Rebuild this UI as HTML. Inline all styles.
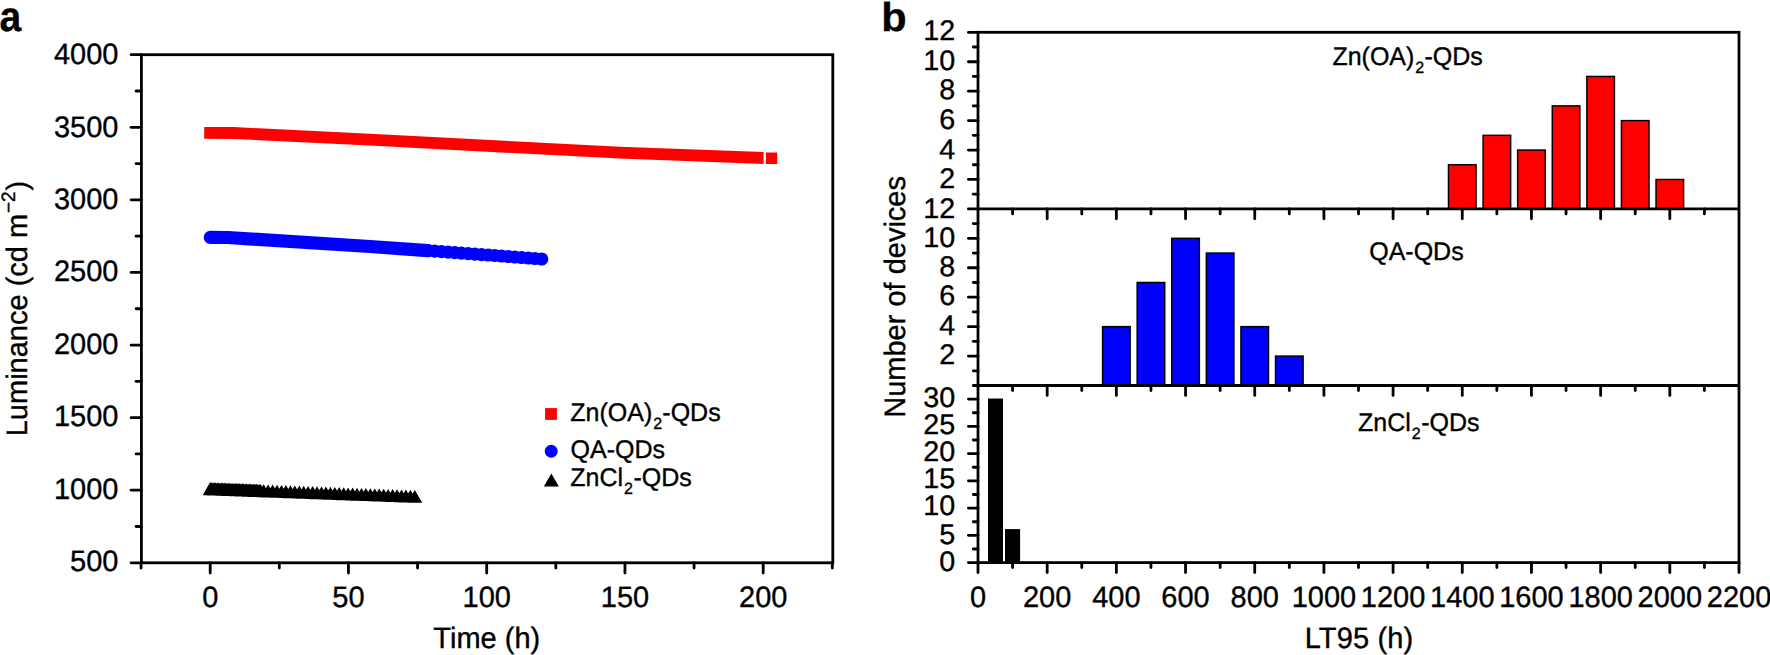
<!DOCTYPE html>
<html lang="en">
<head>
<meta charset="utf-8">
<title>Figure</title>
<style>
html,body{margin:0;padding:0;background:#fff;}
body{width:1770px;height:655px;overflow:hidden;}
svg{display:block;}
svg text{font-family:"Liberation Sans", sans-serif;fill:#000;stroke:#000;stroke-width:0.35px;text-rendering:geometricPrecision;}
</style>
</head>
<body>
<svg width="1770" height="655" viewBox="0 0 1770 655">
<rect width="1770" height="655" fill="#fff"/>
<polygon points="204.2,127.0 234.0,127.1 370.0,133.8 620.0,146.8 763.6,152.1 763.6,163.9 620.0,158.6 370.0,145.6 234.0,138.9 204.2,138.8" fill="#ff0000"/>
<rect x="765.9" y="152.5" width="11.3" height="11.5" fill="#ff0000"/>
<path d="M210.3,237.4 L228.0,237.5 L370.0,246.5 L428.0,250.6" fill="none" stroke="#0000ff" stroke-width="13.2" stroke-linecap="round" stroke-linejoin="round"/>
<circle cx="428.0" cy="250.6" r="6.6" fill="#0000ff"/>
<circle cx="434.7" cy="251.1" r="6.6" fill="#0000ff"/>
<circle cx="441.4" cy="251.6" r="6.6" fill="#0000ff"/>
<circle cx="448.1" cy="252.1" r="6.6" fill="#0000ff"/>
<circle cx="454.8" cy="252.6" r="6.6" fill="#0000ff"/>
<circle cx="461.4" cy="253.1" r="6.6" fill="#0000ff"/>
<circle cx="468.1" cy="253.6" r="6.6" fill="#0000ff"/>
<circle cx="474.8" cy="254.1" r="6.6" fill="#0000ff"/>
<circle cx="481.5" cy="254.6" r="6.6" fill="#0000ff"/>
<circle cx="488.2" cy="255.0" r="6.6" fill="#0000ff"/>
<circle cx="494.9" cy="255.5" r="6.6" fill="#0000ff"/>
<circle cx="501.6" cy="256.0" r="6.6" fill="#0000ff"/>
<circle cx="508.3" cy="256.5" r="6.6" fill="#0000ff"/>
<circle cx="514.9" cy="257.0" r="6.6" fill="#0000ff"/>
<circle cx="521.6" cy="257.5" r="6.6" fill="#0000ff"/>
<circle cx="528.3" cy="258.0" r="6.6" fill="#0000ff"/>
<circle cx="535.0" cy="258.5" r="6.6" fill="#0000ff"/>
<circle cx="541.7" cy="259.0" r="6.6" fill="#0000ff"/>
<path d="M202.7,495.2 L210.2,482.1 L217.7,495.2Z M204.1,495.3 L211.6,482.2 L219.1,495.3Z M205.5,495.3 L213.0,482.2 L220.5,495.3Z M206.9,495.4 L214.4,482.3 L221.9,495.4Z M208.3,495.4 L215.8,482.3 L223.3,495.4Z M209.7,495.5 L217.2,482.4 L224.7,495.5Z M211.1,495.5 L218.6,482.4 L226.1,495.5Z M212.5,495.6 L220.0,482.5 L227.5,495.6Z M213.9,495.6 L221.4,482.5 L228.9,495.6Z M215.3,495.7 L222.8,482.6 L230.3,495.7Z M216.7,495.7 L224.2,482.6 L231.7,495.7Z M218.1,495.8 L225.6,482.7 L233.1,495.8Z M219.5,495.8 L227.0,482.7 L234.5,495.8Z M220.9,495.9 L228.4,482.8 L235.9,495.9Z M222.3,495.9 L229.8,482.8 L237.3,495.9Z M223.7,496.0 L231.2,482.9 L238.7,496.0Z M225.1,496.0 L232.6,482.9 L240.1,496.0Z M226.5,496.1 L234.0,483.0 L241.5,496.1Z M227.9,496.1 L235.4,483.0 L242.9,496.1Z M229.3,496.2 L236.8,483.1 L244.3,496.2Z M230.7,496.2 L238.2,483.1 L245.7,496.2Z M232.1,496.3 L239.6,483.2 L247.1,496.3Z M233.5,496.3 L241.0,483.2 L248.5,496.3Z M234.9,496.4 L242.4,483.3 L249.9,496.4Z M236.3,496.4 L243.8,483.3 L251.3,496.4Z M237.7,496.5 L245.2,483.4 L252.7,496.5Z M239.1,496.6 L246.6,483.5 L254.1,496.6Z M240.5,496.6 L248.0,483.5 L255.5,496.6Z M241.9,496.7 L249.4,483.6 L256.9,496.7Z M243.3,496.7 L250.8,483.6 L258.3,496.7Z M244.7,496.8 L252.2,483.7 L259.7,496.8Z M246.1,496.8 L253.6,483.7 L261.1,496.8Z M247.5,496.9 L255.0,483.8 L262.5,496.9Z M248.9,496.9 L256.4,483.8 L263.9,496.9Z M250.3,497.0 L257.8,483.9 L265.3,497.0Z M251.7,497.0 L259.2,483.9 L266.7,497.0Z M253.1,497.1 L260.6,484.0 L268.1,497.1Z M256.2,497.2 L263.7,484.3 L271.2,497.2Z M260.6,497.4 L268.1,484.5 L275.6,497.4Z M265.1,497.5 L272.6,484.6 L280.1,497.5Z M269.5,497.7 L277.0,484.8 L284.5,497.7Z M274.0,497.8 L281.5,484.9 L289.0,497.8Z M278.4,498.0 L285.9,485.1 L293.4,498.0Z M282.9,498.2 L290.4,485.3 L297.9,498.2Z M287.3,498.3 L294.8,485.4 L302.3,498.3Z M291.8,498.5 L299.3,485.6 L306.8,498.5Z M296.2,498.7 L303.7,485.8 L311.2,498.7Z M300.6,498.8 L308.1,485.9 L315.6,498.8Z M305.1,499.0 L312.6,486.1 L320.1,499.0Z M309.5,499.2 L317.0,486.3 L324.5,499.2Z M314.0,499.3 L321.5,486.4 L329.0,499.3Z M318.4,499.5 L325.9,486.6 L333.4,499.5Z M322.9,499.7 L330.4,486.8 L337.9,499.7Z M327.3,499.8 L334.8,486.9 L342.3,499.8Z M331.8,500.0 L339.2,487.1 L346.8,500.0Z M336.2,500.2 L343.7,487.3 L351.2,500.2Z M340.6,500.3 L348.1,487.4 L355.6,500.3Z M345.1,500.5 L352.6,487.6 L360.1,500.5Z M349.5,500.7 L357.0,487.8 L364.5,500.7Z M354.0,500.8 L361.5,487.9 L369.0,500.8Z M358.4,501.0 L365.9,488.1 L373.4,501.0Z M362.9,501.1 L370.4,488.2 L377.9,501.1Z M367.3,501.3 L374.8,488.4 L382.3,501.3Z M371.7,501.5 L379.2,488.6 L386.7,501.5Z M376.2,501.6 L383.7,488.7 L391.2,501.6Z M380.6,501.8 L388.1,488.9 L395.6,501.8Z M385.1,502.0 L392.6,489.1 L400.1,502.0Z M389.5,502.1 L397.0,489.2 L404.5,502.1Z M394.0,502.3 L401.5,489.4 L409.0,502.3Z M398.4,502.5 L405.9,489.6 L413.4,502.5Z M402.9,502.6 L410.4,489.7 L417.9,502.6Z M407.3,502.8 L414.8,489.9 L422.3,502.8Z" fill="#000"/>
<rect x="141.4" y="54.7" width="691.40" height="508.10" fill="none" stroke="#000" stroke-width="2.8"/>
<line x1="131.10" y1="562.80" x2="141.40" y2="562.80" stroke="#000" stroke-width="2.8" stroke-linecap="round"/>
<text transform="translate(118.50,571.20) scale(1.0,1.02)" font-size="29" text-anchor="end" font-weight="normal" >500</text>
<line x1="136.10" y1="526.51" x2="141.40" y2="526.51" stroke="#000" stroke-width="2.8" stroke-linecap="round"/>
<line x1="131.10" y1="490.21" x2="141.40" y2="490.21" stroke="#000" stroke-width="2.8" stroke-linecap="round"/>
<text transform="translate(118.50,498.76) scale(1.0,1.02)" font-size="29" text-anchor="end" font-weight="normal" >1000</text>
<line x1="136.10" y1="453.92" x2="141.40" y2="453.92" stroke="#000" stroke-width="2.8" stroke-linecap="round"/>
<line x1="131.10" y1="417.63" x2="141.40" y2="417.63" stroke="#000" stroke-width="2.8" stroke-linecap="round"/>
<text transform="translate(118.50,426.31) scale(1.0,1.02)" font-size="29" text-anchor="end" font-weight="normal" >1500</text>
<line x1="136.10" y1="381.34" x2="141.40" y2="381.34" stroke="#000" stroke-width="2.8" stroke-linecap="round"/>
<line x1="131.10" y1="345.04" x2="141.40" y2="345.04" stroke="#000" stroke-width="2.8" stroke-linecap="round"/>
<text transform="translate(118.50,353.87) scale(1.0,1.02)" font-size="29" text-anchor="end" font-weight="normal" >2000</text>
<line x1="136.10" y1="308.75" x2="141.40" y2="308.75" stroke="#000" stroke-width="2.8" stroke-linecap="round"/>
<line x1="131.10" y1="272.46" x2="141.40" y2="272.46" stroke="#000" stroke-width="2.8" stroke-linecap="round"/>
<text transform="translate(118.50,281.43) scale(1.0,1.02)" font-size="29" text-anchor="end" font-weight="normal" >2500</text>
<line x1="136.10" y1="236.16" x2="141.40" y2="236.16" stroke="#000" stroke-width="2.8" stroke-linecap="round"/>
<line x1="131.10" y1="199.87" x2="141.40" y2="199.87" stroke="#000" stroke-width="2.8" stroke-linecap="round"/>
<text transform="translate(118.50,208.99) scale(1.0,1.02)" font-size="29" text-anchor="end" font-weight="normal" >3000</text>
<line x1="136.10" y1="163.58" x2="141.40" y2="163.58" stroke="#000" stroke-width="2.8" stroke-linecap="round"/>
<line x1="131.10" y1="127.29" x2="141.40" y2="127.29" stroke="#000" stroke-width="2.8" stroke-linecap="round"/>
<text transform="translate(118.50,136.54) scale(1.0,1.02)" font-size="29" text-anchor="end" font-weight="normal" >3500</text>
<line x1="136.10" y1="90.99" x2="141.40" y2="90.99" stroke="#000" stroke-width="2.8" stroke-linecap="round"/>
<line x1="131.10" y1="54.70" x2="141.40" y2="54.70" stroke="#000" stroke-width="2.8" stroke-linecap="round"/>
<text transform="translate(118.50,64.10) scale(1.0,1.02)" font-size="29" text-anchor="end" font-weight="normal" >4000</text>
<line x1="141.07" y1="562.80" x2="141.07" y2="568.10" stroke="#000" stroke-width="2.8" stroke-linecap="round"/>
<line x1="210.20" y1="562.80" x2="210.20" y2="573.10" stroke="#000" stroke-width="2.8" stroke-linecap="round"/>
<text transform="translate(210.20,606.80) scale(1.0,1.02)" font-size="29" text-anchor="middle" font-weight="normal" >0</text>
<line x1="279.32" y1="562.80" x2="279.32" y2="568.10" stroke="#000" stroke-width="2.8" stroke-linecap="round"/>
<line x1="348.45" y1="562.80" x2="348.45" y2="573.10" stroke="#000" stroke-width="2.8" stroke-linecap="round"/>
<text transform="translate(348.45,606.80) scale(1.0,1.02)" font-size="29" text-anchor="middle" font-weight="normal" >50</text>
<line x1="417.57" y1="562.80" x2="417.57" y2="568.10" stroke="#000" stroke-width="2.8" stroke-linecap="round"/>
<line x1="486.70" y1="562.80" x2="486.70" y2="573.10" stroke="#000" stroke-width="2.8" stroke-linecap="round"/>
<text transform="translate(486.70,606.80) scale(1.0,1.02)" font-size="29" text-anchor="middle" font-weight="normal" >100</text>
<line x1="555.83" y1="562.80" x2="555.83" y2="568.10" stroke="#000" stroke-width="2.8" stroke-linecap="round"/>
<line x1="624.95" y1="562.80" x2="624.95" y2="573.10" stroke="#000" stroke-width="2.8" stroke-linecap="round"/>
<text transform="translate(624.95,606.80) scale(1.0,1.02)" font-size="29" text-anchor="middle" font-weight="normal" >150</text>
<line x1="694.08" y1="562.80" x2="694.08" y2="568.10" stroke="#000" stroke-width="2.8" stroke-linecap="round"/>
<line x1="763.20" y1="562.80" x2="763.20" y2="573.10" stroke="#000" stroke-width="2.8" stroke-linecap="round"/>
<text transform="translate(763.20,606.80) scale(1.0,1.02)" font-size="29" text-anchor="middle" font-weight="normal" >200</text>
<line x1="832.33" y1="562.80" x2="832.33" y2="568.10" stroke="#000" stroke-width="2.8" stroke-linecap="round"/>
<text transform="translate(486.80,647.70) scale(1.0,1.02)" font-size="29" text-anchor="middle" font-weight="normal" >Time (h)</text>
<text transform="translate(27.4,308.6) rotate(-90) scale(1,1.02)" font-size="29" text-anchor="middle">Luminance (cd m<tspan font-size="19" dy="-12.6" dx="0.8">−2</tspan><tspan dy="12.6" dx="0.8">)</tspan></text>
<text transform="translate(-0.60,30.80) scale(0.93,1.01)" font-size="42" text-anchor="start" font-weight="bold" >a</text>
<rect x="545.1" y="408.1" width="11.8" height="11.8" fill="#ff0000"/>
<circle cx="551.2" cy="451.3" r="6.45" fill="#0000ff"/>
<path d="M543.8,486.6 L551.35,473.5 L558.9,486.6Z" fill="#000"/>
<text transform="translate(570.3,421.1) scale(1,1.02)" font-size="25" text-anchor="start">Zn(OA)<tspan font-size="16" dy="7.8" dx="1.0">2</tspan><tspan dy="-7.8" dx="0.2">-QDs</tspan></text>
<text transform="translate(570.60,458.00) scale(1.0,1.02)" font-size="25" text-anchor="start" font-weight="normal" >QA-QDs</text>
<text transform="translate(570.3,486.0) scale(1,1.02)" font-size="25" text-anchor="start">ZnCl<tspan font-size="16" dy="8" dx="1">2</tspan><tspan dy="-8" dx="0.5">-QDs</tspan></text>
<rect x="978.0" y="32.3" width="761.00" height="530.30" fill="none" stroke="#000" stroke-width="2.8"/>
<rect x="1448.47" y="164.75" width="27.6" height="44.15" fill="#ff0000" stroke="#000" stroke-width="1.45"/>
<rect x="1483.06" y="135.32" width="27.6" height="73.58" fill="#ff0000" stroke="#000" stroke-width="1.45"/>
<rect x="1517.65" y="150.03" width="27.6" height="58.87" fill="#ff0000" stroke="#000" stroke-width="1.45"/>
<rect x="1552.25" y="105.88" width="27.6" height="103.02" fill="#ff0000" stroke="#000" stroke-width="1.45"/>
<rect x="1586.84" y="76.45" width="27.6" height="132.45" fill="#ff0000" stroke="#000" stroke-width="1.45"/>
<rect x="1621.43" y="120.60" width="27.6" height="88.30" fill="#ff0000" stroke="#000" stroke-width="1.45"/>
<rect x="1656.02" y="179.47" width="27.6" height="29.43" fill="#ff0000" stroke="#000" stroke-width="1.45"/>
<rect x="1102.56" y="326.63" width="27.6" height="58.87" fill="#0000ff" stroke="#000" stroke-width="1.45"/>
<rect x="1137.15" y="282.48" width="27.6" height="103.02" fill="#0000ff" stroke="#000" stroke-width="1.45"/>
<rect x="1171.75" y="238.33" width="27.6" height="147.17" fill="#0000ff" stroke="#000" stroke-width="1.45"/>
<rect x="1206.34" y="253.05" width="27.6" height="132.45" fill="#0000ff" stroke="#000" stroke-width="1.45"/>
<rect x="1240.93" y="326.63" width="27.6" height="58.87" fill="#0000ff" stroke="#000" stroke-width="1.45"/>
<rect x="1275.52" y="356.07" width="27.6" height="29.43" fill="#0000ff" stroke="#000" stroke-width="1.45"/>
<rect x="988" y="398.52" width="15" height="164.08" fill="#000"/>
<rect x="1005" y="529.10" width="15.1" height="33.50" fill="#000"/>
<path d="M978.0,208.9 H1739.0 M978.0,385.5 H1739.0" stroke="#000" stroke-width="2.8" fill="none"/>
<line x1="1012.59" y1="208.90" x2="1012.59" y2="213.90" stroke="#000" stroke-width="2.8" stroke-linecap="round"/>
<line x1="1047.18" y1="208.90" x2="1047.18" y2="218.80" stroke="#000" stroke-width="2.8" stroke-linecap="round"/>
<line x1="1081.77" y1="208.90" x2="1081.77" y2="213.90" stroke="#000" stroke-width="2.8" stroke-linecap="round"/>
<line x1="1116.36" y1="208.90" x2="1116.36" y2="218.80" stroke="#000" stroke-width="2.8" stroke-linecap="round"/>
<line x1="1150.95" y1="208.90" x2="1150.95" y2="213.90" stroke="#000" stroke-width="2.8" stroke-linecap="round"/>
<line x1="1185.55" y1="208.90" x2="1185.55" y2="218.80" stroke="#000" stroke-width="2.8" stroke-linecap="round"/>
<line x1="1220.14" y1="208.90" x2="1220.14" y2="213.90" stroke="#000" stroke-width="2.8" stroke-linecap="round"/>
<line x1="1254.73" y1="208.90" x2="1254.73" y2="218.80" stroke="#000" stroke-width="2.8" stroke-linecap="round"/>
<line x1="1289.32" y1="208.90" x2="1289.32" y2="213.90" stroke="#000" stroke-width="2.8" stroke-linecap="round"/>
<line x1="1323.91" y1="208.90" x2="1323.91" y2="218.80" stroke="#000" stroke-width="2.8" stroke-linecap="round"/>
<line x1="1358.50" y1="208.90" x2="1358.50" y2="213.90" stroke="#000" stroke-width="2.8" stroke-linecap="round"/>
<line x1="1393.09" y1="208.90" x2="1393.09" y2="218.80" stroke="#000" stroke-width="2.8" stroke-linecap="round"/>
<line x1="1427.68" y1="208.90" x2="1427.68" y2="213.90" stroke="#000" stroke-width="2.8" stroke-linecap="round"/>
<line x1="1462.27" y1="208.90" x2="1462.27" y2="218.80" stroke="#000" stroke-width="2.8" stroke-linecap="round"/>
<line x1="1496.86" y1="208.90" x2="1496.86" y2="213.90" stroke="#000" stroke-width="2.8" stroke-linecap="round"/>
<line x1="1531.45" y1="208.90" x2="1531.45" y2="218.80" stroke="#000" stroke-width="2.8" stroke-linecap="round"/>
<line x1="1566.05" y1="208.90" x2="1566.05" y2="213.90" stroke="#000" stroke-width="2.8" stroke-linecap="round"/>
<line x1="1600.64" y1="208.90" x2="1600.64" y2="218.80" stroke="#000" stroke-width="2.8" stroke-linecap="round"/>
<line x1="1635.23" y1="208.90" x2="1635.23" y2="213.90" stroke="#000" stroke-width="2.8" stroke-linecap="round"/>
<line x1="1669.82" y1="208.90" x2="1669.82" y2="218.80" stroke="#000" stroke-width="2.8" stroke-linecap="round"/>
<line x1="1704.41" y1="208.90" x2="1704.41" y2="213.90" stroke="#000" stroke-width="2.8" stroke-linecap="round"/>
<line x1="1012.59" y1="385.50" x2="1012.59" y2="390.50" stroke="#000" stroke-width="2.8" stroke-linecap="round"/>
<line x1="1047.18" y1="385.50" x2="1047.18" y2="395.40" stroke="#000" stroke-width="2.8" stroke-linecap="round"/>
<line x1="1081.77" y1="385.50" x2="1081.77" y2="390.50" stroke="#000" stroke-width="2.8" stroke-linecap="round"/>
<line x1="1116.36" y1="385.50" x2="1116.36" y2="395.40" stroke="#000" stroke-width="2.8" stroke-linecap="round"/>
<line x1="1150.95" y1="385.50" x2="1150.95" y2="390.50" stroke="#000" stroke-width="2.8" stroke-linecap="round"/>
<line x1="1185.55" y1="385.50" x2="1185.55" y2="395.40" stroke="#000" stroke-width="2.8" stroke-linecap="round"/>
<line x1="1220.14" y1="385.50" x2="1220.14" y2="390.50" stroke="#000" stroke-width="2.8" stroke-linecap="round"/>
<line x1="1254.73" y1="385.50" x2="1254.73" y2="395.40" stroke="#000" stroke-width="2.8" stroke-linecap="round"/>
<line x1="1289.32" y1="385.50" x2="1289.32" y2="390.50" stroke="#000" stroke-width="2.8" stroke-linecap="round"/>
<line x1="1323.91" y1="385.50" x2="1323.91" y2="395.40" stroke="#000" stroke-width="2.8" stroke-linecap="round"/>
<line x1="1358.50" y1="385.50" x2="1358.50" y2="390.50" stroke="#000" stroke-width="2.8" stroke-linecap="round"/>
<line x1="1393.09" y1="385.50" x2="1393.09" y2="395.40" stroke="#000" stroke-width="2.8" stroke-linecap="round"/>
<line x1="1427.68" y1="385.50" x2="1427.68" y2="390.50" stroke="#000" stroke-width="2.8" stroke-linecap="round"/>
<line x1="1462.27" y1="385.50" x2="1462.27" y2="395.40" stroke="#000" stroke-width="2.8" stroke-linecap="round"/>
<line x1="1496.86" y1="385.50" x2="1496.86" y2="390.50" stroke="#000" stroke-width="2.8" stroke-linecap="round"/>
<line x1="1531.45" y1="385.50" x2="1531.45" y2="395.40" stroke="#000" stroke-width="2.8" stroke-linecap="round"/>
<line x1="1566.05" y1="385.50" x2="1566.05" y2="390.50" stroke="#000" stroke-width="2.8" stroke-linecap="round"/>
<line x1="1600.64" y1="385.50" x2="1600.64" y2="395.40" stroke="#000" stroke-width="2.8" stroke-linecap="round"/>
<line x1="1635.23" y1="385.50" x2="1635.23" y2="390.50" stroke="#000" stroke-width="2.8" stroke-linecap="round"/>
<line x1="1669.82" y1="385.50" x2="1669.82" y2="395.40" stroke="#000" stroke-width="2.8" stroke-linecap="round"/>
<line x1="1704.41" y1="385.50" x2="1704.41" y2="390.50" stroke="#000" stroke-width="2.8" stroke-linecap="round"/>
<line x1="978.00" y1="562.60" x2="978.00" y2="572.50" stroke="#000" stroke-width="2.8" stroke-linecap="round"/>
<line x1="1012.59" y1="562.60" x2="1012.59" y2="567.60" stroke="#000" stroke-width="2.8" stroke-linecap="round"/>
<line x1="1047.18" y1="562.60" x2="1047.18" y2="572.50" stroke="#000" stroke-width="2.8" stroke-linecap="round"/>
<line x1="1081.77" y1="562.60" x2="1081.77" y2="567.60" stroke="#000" stroke-width="2.8" stroke-linecap="round"/>
<line x1="1116.36" y1="562.60" x2="1116.36" y2="572.50" stroke="#000" stroke-width="2.8" stroke-linecap="round"/>
<line x1="1150.95" y1="562.60" x2="1150.95" y2="567.60" stroke="#000" stroke-width="2.8" stroke-linecap="round"/>
<line x1="1185.55" y1="562.60" x2="1185.55" y2="572.50" stroke="#000" stroke-width="2.8" stroke-linecap="round"/>
<line x1="1220.14" y1="562.60" x2="1220.14" y2="567.60" stroke="#000" stroke-width="2.8" stroke-linecap="round"/>
<line x1="1254.73" y1="562.60" x2="1254.73" y2="572.50" stroke="#000" stroke-width="2.8" stroke-linecap="round"/>
<line x1="1289.32" y1="562.60" x2="1289.32" y2="567.60" stroke="#000" stroke-width="2.8" stroke-linecap="round"/>
<line x1="1323.91" y1="562.60" x2="1323.91" y2="572.50" stroke="#000" stroke-width="2.8" stroke-linecap="round"/>
<line x1="1358.50" y1="562.60" x2="1358.50" y2="567.60" stroke="#000" stroke-width="2.8" stroke-linecap="round"/>
<line x1="1393.09" y1="562.60" x2="1393.09" y2="572.50" stroke="#000" stroke-width="2.8" stroke-linecap="round"/>
<line x1="1427.68" y1="562.60" x2="1427.68" y2="567.60" stroke="#000" stroke-width="2.8" stroke-linecap="round"/>
<line x1="1462.27" y1="562.60" x2="1462.27" y2="572.50" stroke="#000" stroke-width="2.8" stroke-linecap="round"/>
<line x1="1496.86" y1="562.60" x2="1496.86" y2="567.60" stroke="#000" stroke-width="2.8" stroke-linecap="round"/>
<line x1="1531.45" y1="562.60" x2="1531.45" y2="572.50" stroke="#000" stroke-width="2.8" stroke-linecap="round"/>
<line x1="1566.05" y1="562.60" x2="1566.05" y2="567.60" stroke="#000" stroke-width="2.8" stroke-linecap="round"/>
<line x1="1600.64" y1="562.60" x2="1600.64" y2="572.50" stroke="#000" stroke-width="2.8" stroke-linecap="round"/>
<line x1="1635.23" y1="562.60" x2="1635.23" y2="567.60" stroke="#000" stroke-width="2.8" stroke-linecap="round"/>
<line x1="1669.82" y1="562.60" x2="1669.82" y2="572.50" stroke="#000" stroke-width="2.8" stroke-linecap="round"/>
<line x1="1704.41" y1="562.60" x2="1704.41" y2="567.60" stroke="#000" stroke-width="2.8" stroke-linecap="round"/>
<line x1="1739.00" y1="562.60" x2="1739.00" y2="572.50" stroke="#000" stroke-width="2.8" stroke-linecap="round"/>
<text transform="translate(978.00,606.80) scale(1.0,1.02)" font-size="29" text-anchor="middle" font-weight="normal" >0</text>
<text transform="translate(1047.18,606.80) scale(1.0,1.02)" font-size="29" text-anchor="middle" font-weight="normal" >200</text>
<text transform="translate(1116.36,606.80) scale(1.0,1.02)" font-size="29" text-anchor="middle" font-weight="normal" >400</text>
<text transform="translate(1185.55,606.80) scale(1.0,1.02)" font-size="29" text-anchor="middle" font-weight="normal" >600</text>
<text transform="translate(1254.73,606.80) scale(1.0,1.02)" font-size="29" text-anchor="middle" font-weight="normal" >800</text>
<text transform="translate(1323.91,606.80) scale(1.0,1.02)" font-size="29" text-anchor="middle" font-weight="normal" >1000</text>
<text transform="translate(1393.09,606.80) scale(1.0,1.02)" font-size="29" text-anchor="middle" font-weight="normal" >1200</text>
<text transform="translate(1462.27,606.80) scale(1.0,1.02)" font-size="29" text-anchor="middle" font-weight="normal" >1400</text>
<text transform="translate(1531.45,606.80) scale(1.0,1.02)" font-size="29" text-anchor="middle" font-weight="normal" >1600</text>
<text transform="translate(1600.64,606.80) scale(1.0,1.02)" font-size="29" text-anchor="middle" font-weight="normal" >1800</text>
<text transform="translate(1669.82,606.80) scale(1.0,1.02)" font-size="29" text-anchor="middle" font-weight="normal" >2000</text>
<text transform="translate(1739.00,606.80) scale(1.0,1.02)" font-size="29" text-anchor="middle" font-weight="normal" >2200</text>
<line x1="973.30" y1="194.18" x2="978.00" y2="194.18" stroke="#000" stroke-width="2.8" stroke-linecap="round"/>
<line x1="968.40" y1="179.47" x2="978.00" y2="179.47" stroke="#000" stroke-width="2.8" stroke-linecap="round"/>
<text transform="translate(955.20,188.22) scale(1.0,0.985)" font-size="28.7" text-anchor="end" font-weight="normal" >2</text>
<line x1="973.30" y1="164.75" x2="978.00" y2="164.75" stroke="#000" stroke-width="2.8" stroke-linecap="round"/>
<line x1="968.40" y1="150.03" x2="978.00" y2="150.03" stroke="#000" stroke-width="2.8" stroke-linecap="round"/>
<text transform="translate(955.20,158.63) scale(1.0,0.985)" font-size="28.7" text-anchor="end" font-weight="normal" >4</text>
<line x1="973.30" y1="135.32" x2="978.00" y2="135.32" stroke="#000" stroke-width="2.8" stroke-linecap="round"/>
<line x1="968.40" y1="120.60" x2="978.00" y2="120.60" stroke="#000" stroke-width="2.8" stroke-linecap="round"/>
<text transform="translate(955.20,129.05) scale(1.0,0.985)" font-size="28.7" text-anchor="end" font-weight="normal" >6</text>
<line x1="973.30" y1="105.88" x2="978.00" y2="105.88" stroke="#000" stroke-width="2.8" stroke-linecap="round"/>
<line x1="968.40" y1="91.17" x2="978.00" y2="91.17" stroke="#000" stroke-width="2.8" stroke-linecap="round"/>
<text transform="translate(955.20,99.47) scale(1.0,0.985)" font-size="28.7" text-anchor="end" font-weight="normal" >8</text>
<line x1="973.30" y1="76.45" x2="978.00" y2="76.45" stroke="#000" stroke-width="2.8" stroke-linecap="round"/>
<line x1="968.40" y1="61.73" x2="978.00" y2="61.73" stroke="#000" stroke-width="2.8" stroke-linecap="round"/>
<text transform="translate(955.20,69.88) scale(1.0,0.985)" font-size="28.7" text-anchor="end" font-weight="normal" >10</text>
<line x1="973.30" y1="47.02" x2="978.00" y2="47.02" stroke="#000" stroke-width="2.8" stroke-linecap="round"/>
<line x1="968.40" y1="32.30" x2="978.00" y2="32.30" stroke="#000" stroke-width="2.8" stroke-linecap="round"/>
<text transform="translate(955.20,40.30) scale(1.0,0.985)" font-size="28.7" text-anchor="end" font-weight="normal" >12</text>
<line x1="973.30" y1="370.78" x2="978.00" y2="370.78" stroke="#000" stroke-width="2.8" stroke-linecap="round"/>
<line x1="968.40" y1="356.07" x2="978.00" y2="356.07" stroke="#000" stroke-width="2.8" stroke-linecap="round"/>
<text transform="translate(955.20,364.27) scale(1.0,0.985)" font-size="28.7" text-anchor="end" font-weight="normal" >2</text>
<line x1="973.30" y1="341.35" x2="978.00" y2="341.35" stroke="#000" stroke-width="2.8" stroke-linecap="round"/>
<line x1="968.40" y1="326.63" x2="978.00" y2="326.63" stroke="#000" stroke-width="2.8" stroke-linecap="round"/>
<text transform="translate(955.20,334.63) scale(1.0,0.985)" font-size="28.7" text-anchor="end" font-weight="normal" >4</text>
<line x1="973.30" y1="311.92" x2="978.00" y2="311.92" stroke="#000" stroke-width="2.8" stroke-linecap="round"/>
<line x1="968.40" y1="297.20" x2="978.00" y2="297.20" stroke="#000" stroke-width="2.8" stroke-linecap="round"/>
<text transform="translate(955.20,305.20) scale(1.0,0.985)" font-size="28.7" text-anchor="end" font-weight="normal" >6</text>
<line x1="973.30" y1="282.48" x2="978.00" y2="282.48" stroke="#000" stroke-width="2.8" stroke-linecap="round"/>
<line x1="968.40" y1="267.77" x2="978.00" y2="267.77" stroke="#000" stroke-width="2.8" stroke-linecap="round"/>
<text transform="translate(955.20,275.97) scale(1.0,0.985)" font-size="28.7" text-anchor="end" font-weight="normal" >8</text>
<line x1="973.30" y1="253.05" x2="978.00" y2="253.05" stroke="#000" stroke-width="2.8" stroke-linecap="round"/>
<line x1="968.40" y1="238.33" x2="978.00" y2="238.33" stroke="#000" stroke-width="2.8" stroke-linecap="round"/>
<text transform="translate(955.20,246.93) scale(1.0,0.985)" font-size="28.7" text-anchor="end" font-weight="normal" >10</text>
<line x1="973.30" y1="223.62" x2="978.00" y2="223.62" stroke="#000" stroke-width="2.8" stroke-linecap="round"/>
<line x1="968.40" y1="208.90" x2="978.00" y2="208.90" stroke="#000" stroke-width="2.8" stroke-linecap="round"/>
<text transform="translate(955.20,217.90) scale(1.0,0.985)" font-size="28.7" text-anchor="end" font-weight="normal" >12</text>
<line x1="968.40" y1="562.60" x2="978.00" y2="562.60" stroke="#000" stroke-width="2.8" stroke-linecap="round"/>
<text transform="translate(955.20,571.10) scale(1.0,0.985)" font-size="28.7" text-anchor="end" font-weight="normal" >0</text>
<line x1="973.30" y1="548.98" x2="978.00" y2="548.98" stroke="#000" stroke-width="2.8" stroke-linecap="round"/>
<line x1="968.40" y1="535.35" x2="978.00" y2="535.35" stroke="#000" stroke-width="2.8" stroke-linecap="round"/>
<text transform="translate(955.20,544.05) scale(1.0,0.985)" font-size="28.7" text-anchor="end" font-weight="normal" >5</text>
<line x1="973.30" y1="521.73" x2="978.00" y2="521.73" stroke="#000" stroke-width="2.8" stroke-linecap="round"/>
<line x1="968.40" y1="508.11" x2="978.00" y2="508.11" stroke="#000" stroke-width="2.8" stroke-linecap="round"/>
<text transform="translate(955.20,514.81) scale(1.0,0.985)" font-size="28.7" text-anchor="end" font-weight="normal" >10</text>
<line x1="973.30" y1="494.48" x2="978.00" y2="494.48" stroke="#000" stroke-width="2.8" stroke-linecap="round"/>
<line x1="968.40" y1="480.86" x2="978.00" y2="480.86" stroke="#000" stroke-width="2.8" stroke-linecap="round"/>
<text transform="translate(955.20,487.56) scale(1.0,0.985)" font-size="28.7" text-anchor="end" font-weight="normal" >15</text>
<line x1="973.30" y1="467.24" x2="978.00" y2="467.24" stroke="#000" stroke-width="2.8" stroke-linecap="round"/>
<line x1="968.40" y1="453.62" x2="978.00" y2="453.62" stroke="#000" stroke-width="2.8" stroke-linecap="round"/>
<text transform="translate(955.20,460.62) scale(1.0,0.985)" font-size="28.7" text-anchor="end" font-weight="normal" >20</text>
<line x1="973.30" y1="439.99" x2="978.00" y2="439.99" stroke="#000" stroke-width="2.8" stroke-linecap="round"/>
<line x1="968.40" y1="426.37" x2="978.00" y2="426.37" stroke="#000" stroke-width="2.8" stroke-linecap="round"/>
<text transform="translate(955.20,433.57) scale(1.0,0.985)" font-size="28.7" text-anchor="end" font-weight="normal" >25</text>
<line x1="973.30" y1="412.75" x2="978.00" y2="412.75" stroke="#000" stroke-width="2.8" stroke-linecap="round"/>
<line x1="968.40" y1="399.12" x2="978.00" y2="399.12" stroke="#000" stroke-width="2.8" stroke-linecap="round"/>
<text transform="translate(955.20,407.32) scale(1.0,0.985)" font-size="28.7" text-anchor="end" font-weight="normal" >30</text>
<line x1="973.30" y1="385.50" x2="978.00" y2="385.50" stroke="#000" stroke-width="2.8" stroke-linecap="round"/>
<text transform="translate(1359.00,647.70) scale(1.0,1.02)" font-size="29" text-anchor="middle" font-weight="normal" letter-spacing="0.15">LT95 (h)</text>
<text transform="translate(904.9,296.9) rotate(-90) scale(1,1.02)" font-size="29" text-anchor="middle">Number of devices</text>
<text transform="translate(881.20,30.70) scale(1.0,0.975)" font-size="41.5" text-anchor="start" font-weight="bold" >b</text>
<text transform="translate(1332.4,64.8) scale(1,1.02)" font-size="25" text-anchor="start">Zn(OA)<tspan font-size="16" dy="7.8" dx="1.0">2</tspan><tspan dy="-7.8" dx="0.2">-QDs</tspan></text>
<text transform="translate(1369.20,260.30) scale(1.0,1.02)" font-size="25" text-anchor="start" font-weight="normal" >QA-QDs</text>
<text transform="translate(1358.0,431.0) scale(1,1.02)" font-size="25" text-anchor="start">ZnCl<tspan font-size="16" dy="8" dx="1">2</tspan><tspan dy="-8" dx="0.5">-QDs</tspan></text>
</svg>
</body>
</html>
